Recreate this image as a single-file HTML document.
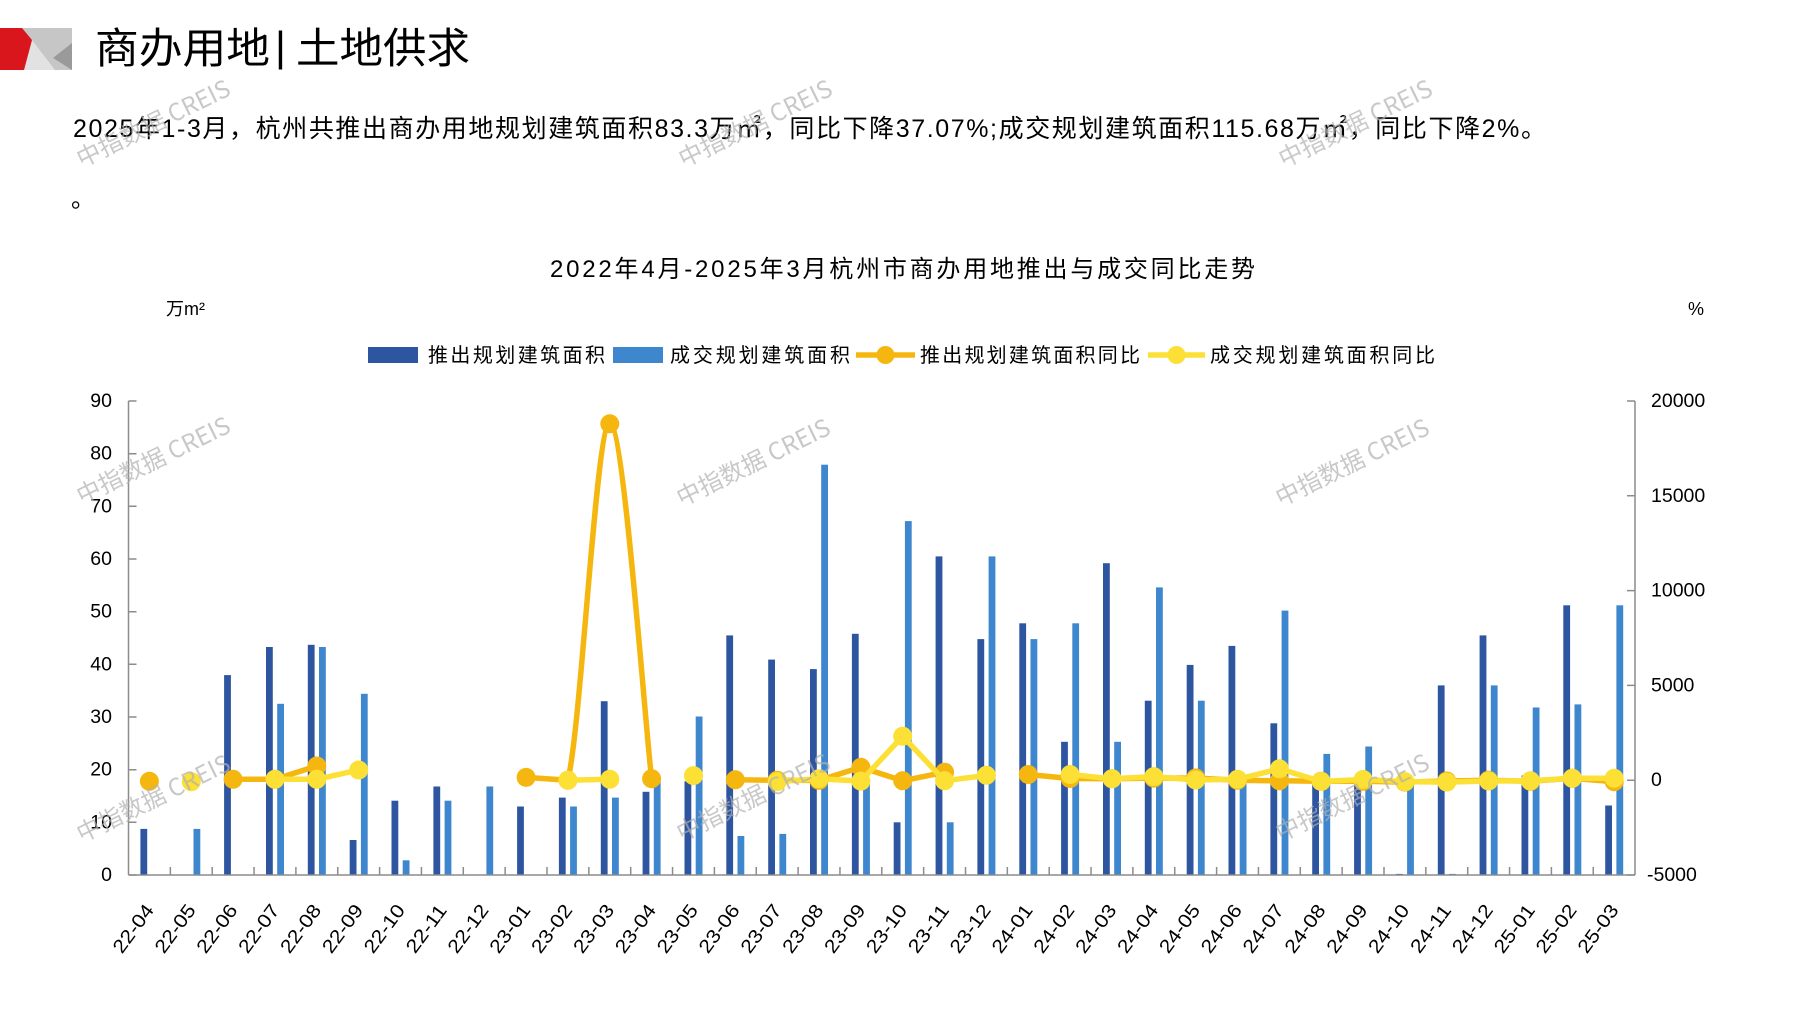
<!DOCTYPE html>
<html><head><meta charset="utf-8"><style>
html,body{margin:0;padding:0;background:#fff;overflow:hidden}
svg{display:block}
.t{font-family:"Liberation Sans","Noto Sans CJK SC",sans-serif;fill:#000}
.n{font-family:"Liberation Sans",sans-serif;fill:#000;font-size:19.5px}
.wm{font-family:"Noto Sans CJK SC","Liberation Sans",sans-serif;font-size:24px;fill:#b0b0b0;opacity:.7}
</style></head><body>
<svg width="1797" height="1010" viewBox="0 0 1797 1010" xmlns="http://www.w3.org/2000/svg">
<rect width="1797" height="1010" fill="#fff"/>
<!-- header logo -->
<rect x="0" y="28" width="72" height="42" fill="#c6c6c6"/>
<polygon points="32,40 55,70 24,70" fill="#e2e2e2"/>
<polygon points="72,43 53,58 72,70" fill="#9a9a9a"/>
<polygon points="0,28 22,28 32,40 24,70 0,70" fill="#d9161c"/>
<text class="t" x="95" y="63" font-size="42" textLength="175" lengthAdjust="spacingAndGlyphs">商办用地</text>
<text x="275" y="61" font-size="42" font-family="Liberation Sans,sans-serif" fill="#000">|</text>
<text class="t" x="296" y="63" font-size="42" textLength="174" lengthAdjust="spacingAndGlyphs">土地供求</text>
<!-- paragraph -->
<text class="t" x="73" y="137" font-size="25" textLength="1473" lengthAdjust="spacing">2025年1-3月，杭州共推出商办用地规划建筑面积83.3万㎡，同比下降37.07%;成交规划建筑面积115.68万㎡，同比下降2%。</text>
<text class="t" x="71" y="207" font-size="24">。</text>
<!-- chart title -->
<text class="t" x="550" y="277" font-size="24" textLength="705" lengthAdjust="spacing">2022年4月-2025年3月杭州市商办用地推出与成交同比走势</text>
<text class="t" x="166" y="315" font-size="18">万m²</text>
<text class="t" x="1688" y="315" font-size="18">%</text>
<!-- legend -->
<rect x="368" y="347" width="50" height="16" fill="#2e55a0"/>
<text class="t" x="428" y="362" font-size="20" textLength="177" lengthAdjust="spacing">推出规划建筑面积</text>
<rect x="613" y="347" width="50" height="16" fill="#3e86ce"/>
<text class="t" x="670" y="362" font-size="20" textLength="180" lengthAdjust="spacing">成交规划建筑面积</text>
<line x1="856" y1="355" x2="915" y2="355" stroke="#f5b70f" stroke-width="5.5"/>
<circle cx="885.5" cy="355" r="9" fill="#f5b70f"/>
<text class="t" x="920" y="362" font-size="20" textLength="220" lengthAdjust="spacing">推出规划建筑面积同比</text>
<line x1="1148" y1="355" x2="1205" y2="355" stroke="#fce035" stroke-width="5.5"/>
<circle cx="1176.5" cy="355" r="9" fill="#fce035"/>
<text class="t" x="1210" y="362" font-size="20" textLength="225" lengthAdjust="spacing">成交规划建筑面积同比</text>

<!-- bars dark -->
<g fill="#2e55a0">
<rect x="140.4" y="828.9" width="6.8" height="46.1"/>
<rect x="224.1" y="675.1" width="6.8" height="199.9"/>
<rect x="266.0" y="647.0" width="6.8" height="228.0"/>
<rect x="307.8" y="644.8" width="6.8" height="230.2"/>
<rect x="349.7" y="840.0" width="6.8" height="35.0"/>
<rect x="391.5" y="800.7" width="6.8" height="74.3"/>
<rect x="433.4" y="786.5" width="6.8" height="88.5"/>
<rect x="517.1" y="806.5" width="6.8" height="68.5"/>
<rect x="558.9" y="797.6" width="6.8" height="77.4"/>
<rect x="600.8" y="701.2" width="6.8" height="173.8"/>
<rect x="642.6" y="791.8" width="6.8" height="83.2"/>
<rect x="684.5" y="781.3" width="6.8" height="93.7"/>
<rect x="726.3" y="635.4" width="6.8" height="239.6"/>
<rect x="768.2" y="659.6" width="6.8" height="215.4"/>
<rect x="810.0" y="669.1" width="6.8" height="205.9"/>
<rect x="851.9" y="633.8" width="6.8" height="241.2"/>
<rect x="893.7" y="822.3" width="6.8" height="52.7"/>
<rect x="935.6" y="556.4" width="6.8" height="318.6"/>
<rect x="977.4" y="639.1" width="6.8" height="235.9"/>
<rect x="1019.3" y="623.3" width="6.8" height="251.7"/>
<rect x="1061.1" y="741.8" width="6.8" height="133.2"/>
<rect x="1103.0" y="563.2" width="6.8" height="311.8"/>
<rect x="1144.8" y="700.7" width="6.8" height="174.3"/>
<rect x="1186.7" y="664.9" width="6.8" height="210.1"/>
<rect x="1228.5" y="645.9" width="6.8" height="229.1"/>
<rect x="1270.4" y="723.3" width="6.8" height="151.7"/>
<rect x="1312.2" y="780.2" width="6.8" height="94.8"/>
<rect x="1354.1" y="780.2" width="6.8" height="94.8"/>
<rect x="1395.9" y="873.9" width="6.8" height="1.1"/>
<rect x="1437.8" y="685.4" width="6.8" height="189.6"/>
<rect x="1479.6" y="635.4" width="6.8" height="239.6"/>
<rect x="1521.5" y="775.5" width="6.8" height="99.5"/>
<rect x="1563.3" y="605.3" width="6.8" height="269.7"/>
<rect x="1605.2" y="805.5" width="6.8" height="69.5"/>
</g>
<!-- bars light -->
<g fill="#3e86ce">
<rect x="193.5" y="828.9" width="6.8" height="46.1"/>
<rect x="277.2" y="703.8" width="6.8" height="171.2"/>
<rect x="319.0" y="647.0" width="6.8" height="228.0"/>
<rect x="360.9" y="693.8" width="6.8" height="181.2"/>
<rect x="402.7" y="860.3" width="6.8" height="14.7"/>
<rect x="444.6" y="800.7" width="6.8" height="74.3"/>
<rect x="486.4" y="786.5" width="6.8" height="88.5"/>
<rect x="570.1" y="806.5" width="6.8" height="68.5"/>
<rect x="612.0" y="797.6" width="6.8" height="77.4"/>
<rect x="653.8" y="778.6" width="6.8" height="96.4"/>
<rect x="695.7" y="716.5" width="6.8" height="158.5"/>
<rect x="737.5" y="836.0" width="6.8" height="39.0"/>
<rect x="779.4" y="833.9" width="6.8" height="41.1"/>
<rect x="821.2" y="464.7" width="6.8" height="410.3"/>
<rect x="863.1" y="780.2" width="6.8" height="94.8"/>
<rect x="904.9" y="521.1" width="6.8" height="353.9"/>
<rect x="946.8" y="822.3" width="6.8" height="52.7"/>
<rect x="988.6" y="556.4" width="6.8" height="318.6"/>
<rect x="1030.5" y="639.1" width="6.8" height="235.9"/>
<rect x="1072.3" y="623.3" width="6.8" height="251.7"/>
<rect x="1114.2" y="741.8" width="6.8" height="133.2"/>
<rect x="1156.0" y="587.4" width="6.8" height="287.6"/>
<rect x="1197.9" y="700.7" width="6.8" height="174.3"/>
<rect x="1239.7" y="780.2" width="6.8" height="94.8"/>
<rect x="1281.6" y="610.6" width="6.8" height="264.4"/>
<rect x="1323.4" y="753.9" width="6.8" height="121.1"/>
<rect x="1365.3" y="746.5" width="6.8" height="128.5"/>
<rect x="1407.1" y="782.8" width="6.8" height="92.2"/>
<rect x="1449.0" y="873.9" width="6.8" height="1.1"/>
<rect x="1490.8" y="685.4" width="6.8" height="189.6"/>
<rect x="1532.7" y="707.5" width="6.8" height="167.5"/>
<rect x="1574.5" y="704.4" width="6.8" height="170.6"/>
<rect x="1616.4" y="605.3" width="6.8" height="269.7"/>
</g>

<!-- axes -->
<g stroke="#8c8c8c" stroke-width="1.5" fill="none">
<line x1="128.5" y1="401" x2="128.5" y2="875"/>
<line x1="1635" y1="401" x2="1635" y2="875"/>
<line x1="128.5" y1="875" x2="1635" y2="875"/>
<path d="M128.5 875H136.5M128.5 822.3H136.5M128.5 769.7H136.5M128.5 717H136.5M128.5 664.3H136.5M128.5 611.7H136.5M128.5 559H136.5M128.5 506.3H136.5M128.5 453.7H136.5M128.5 401H136.5"/>
<path d="M1627 875H1635M1627 780.2H1635M1627 685.4H1635M1627 590.6H1635M1627 495.8H1635M1627 401H1635"/>
<path d="M170.35 875V867M212.2 875V867M254.05 875V867M295.9 875V867M337.75 875V867M379.6 875V867M421.45 875V867M463.3 875V867M505.15 875V867M547 875V867M588.85 875V867M630.7 875V867M672.55 875V867M714.4 875V867M756.25 875V867M798.1 875V867M839.95 875V867M881.8 875V867M923.65 875V867M965.5 875V867M1007.35 875V867M1049.2 875V867M1091.05 875V867M1132.9 875V867M1174.75 875V867M1216.6 875V867M1258.45 875V867M1300.3 875V867M1342.15 875V867M1384 875V867M1425.85 875V867M1467.7 875V867M1509.55 875V867M1551.4 875V867M1593.25 875V867"/>
</g>
<!-- left labels -->
<g class="n" text-anchor="end">
<text x="112" y="407">90</text>
<text x="112" y="459.7">80</text>
<text x="112" y="512.3">70</text>
<text x="112" y="565">60</text>
<text x="112" y="617.7">50</text>
<text x="112" y="670.3">40</text>
<text x="112" y="723">30</text>
<text x="112" y="775.7">20</text>
<text x="112" y="828.3">10</text>
<text x="112" y="881">0</text>
</g>
<!-- right labels -->
<g class="n">
<text x="1651" y="407">20000</text>
<text x="1651" y="501.8">15000</text>
<text x="1651" y="596.6">10000</text>
<text x="1651" y="691.4">5000</text>
<text x="1651" y="786.2">0</text>
<text x="1647" y="881">-5000</text>
</g>
<!-- x labels -->
<g class="n" text-anchor="end" style="font-size:19px">
<text transform="translate(154.7,910.3) rotate(-53.6)" textLength="55" lengthAdjust="spacingAndGlyphs">22-04</text>
<text transform="translate(196.6,910.3) rotate(-53.6)" textLength="55" lengthAdjust="spacingAndGlyphs">22-05</text>
<text transform="translate(238.4,910.3) rotate(-53.6)" textLength="55" lengthAdjust="spacingAndGlyphs">22-06</text>
<text transform="translate(280.3,910.3) rotate(-53.6)" textLength="55" lengthAdjust="spacingAndGlyphs">22-07</text>
<text transform="translate(322.1,910.3) rotate(-53.6)" textLength="55" lengthAdjust="spacingAndGlyphs">22-08</text>
<text transform="translate(364.0,910.3) rotate(-53.6)" textLength="55" lengthAdjust="spacingAndGlyphs">22-09</text>
<text transform="translate(405.8,910.3) rotate(-53.6)" textLength="55" lengthAdjust="spacingAndGlyphs">22-10</text>
<text transform="translate(447.7,910.3) rotate(-53.6)" textLength="55" lengthAdjust="spacingAndGlyphs">22-11</text>
<text transform="translate(489.5,910.3) rotate(-53.6)" textLength="55" lengthAdjust="spacingAndGlyphs">22-12</text>
<text transform="translate(531.4,910.3) rotate(-53.6)" textLength="55" lengthAdjust="spacingAndGlyphs">23-01</text>
<text transform="translate(573.2,910.3) rotate(-53.6)" textLength="55" lengthAdjust="spacingAndGlyphs">23-02</text>
<text transform="translate(615.1,910.3) rotate(-53.6)" textLength="55" lengthAdjust="spacingAndGlyphs">23-03</text>
<text transform="translate(656.9,910.3) rotate(-53.6)" textLength="55" lengthAdjust="spacingAndGlyphs">23-04</text>
<text transform="translate(698.8,910.3) rotate(-53.6)" textLength="55" lengthAdjust="spacingAndGlyphs">23-05</text>
<text transform="translate(740.6,910.3) rotate(-53.6)" textLength="55" lengthAdjust="spacingAndGlyphs">23-06</text>
<text transform="translate(782.5,910.3) rotate(-53.6)" textLength="55" lengthAdjust="spacingAndGlyphs">23-07</text>
<text transform="translate(824.3,910.3) rotate(-53.6)" textLength="55" lengthAdjust="spacingAndGlyphs">23-08</text>
<text transform="translate(866.2,910.3) rotate(-53.6)" textLength="55" lengthAdjust="spacingAndGlyphs">23-09</text>
<text transform="translate(908.0,910.3) rotate(-53.6)" textLength="55" lengthAdjust="spacingAndGlyphs">23-10</text>
<text transform="translate(949.9,910.3) rotate(-53.6)" textLength="55" lengthAdjust="spacingAndGlyphs">23-11</text>
<text transform="translate(991.7,910.3) rotate(-53.6)" textLength="55" lengthAdjust="spacingAndGlyphs">23-12</text>
<text transform="translate(1033.6,910.3) rotate(-53.6)" textLength="55" lengthAdjust="spacingAndGlyphs">24-01</text>
<text transform="translate(1075.4,910.3) rotate(-53.6)" textLength="55" lengthAdjust="spacingAndGlyphs">24-02</text>
<text transform="translate(1117.3,910.3) rotate(-53.6)" textLength="55" lengthAdjust="spacingAndGlyphs">24-03</text>
<text transform="translate(1159.1,910.3) rotate(-53.6)" textLength="55" lengthAdjust="spacingAndGlyphs">24-04</text>
<text transform="translate(1201.0,910.3) rotate(-53.6)" textLength="55" lengthAdjust="spacingAndGlyphs">24-05</text>
<text transform="translate(1242.8,910.3) rotate(-53.6)" textLength="55" lengthAdjust="spacingAndGlyphs">24-06</text>
<text transform="translate(1284.7,910.3) rotate(-53.6)" textLength="55" lengthAdjust="spacingAndGlyphs">24-07</text>
<text transform="translate(1326.5,910.3) rotate(-53.6)" textLength="55" lengthAdjust="spacingAndGlyphs">24-08</text>
<text transform="translate(1368.4,910.3) rotate(-53.6)" textLength="55" lengthAdjust="spacingAndGlyphs">24-09</text>
<text transform="translate(1410.2,910.3) rotate(-53.6)" textLength="55" lengthAdjust="spacingAndGlyphs">24-10</text>
<text transform="translate(1452.1,910.3) rotate(-53.6)" textLength="55" lengthAdjust="spacingAndGlyphs">24-11</text>
<text transform="translate(1493.9,910.3) rotate(-53.6)" textLength="55" lengthAdjust="spacingAndGlyphs">24-12</text>
<text transform="translate(1535.8,910.3) rotate(-53.6)" textLength="55" lengthAdjust="spacingAndGlyphs">25-01</text>
<text transform="translate(1577.6,910.3) rotate(-53.6)" textLength="55" lengthAdjust="spacingAndGlyphs">25-02</text>
<text transform="translate(1619.5,910.3) rotate(-53.6)" textLength="55" lengthAdjust="spacingAndGlyphs">25-03</text>
</g>

<!-- orange line (推出同比) -->
<g stroke="#f5b70f" stroke-width="5.5" fill="none" stroke-linejoin="round" stroke-linecap="round">
<polyline points="233.1,779.3 275.0,779.3 316.8,766.0"/>
<path d="M526.1 777.4 L567.9 780.2 C581.85 721.3 595.85 424.05 609.8 423.8 C623.75 423.55 644.6 719.5 651.6 778.7"/>
<polyline points="735.3,779.8 777.2,780.3 819.0,780.4 860.9,767.3 902.7,780.8 944.6,772.2"/>
<polyline points="1028.3,774.5 1070.1,778.5 1112.0,778.7 1153.8,778.1 1195.7,778.0 1237.5,780.3 1279.4,780.8 1321.2,781.2 1363.1,781.3 1404.9,782.1 1446.8,781.0 1488.6,780.2 1530.5,781.3 1572.3,778.3 1614.2,781.7"/>
</g>
<g fill="#f5b70f">
<circle cx="149.4" cy="781.3" r="9.5"/>
<circle cx="233.1" cy="779.3" r="9.5"/><circle cx="275.0" cy="779.3" r="9.5"/><circle cx="316.8" cy="766.0" r="9.5"/>
<circle cx="526.1" cy="777.4" r="9.5"/><circle cx="567.9" cy="780.2" r="9.5"/><circle cx="609.8" cy="423.8" r="9.5"/><circle cx="651.6" cy="778.7" r="9.5"/>
<circle cx="735.3" cy="779.8" r="9.5"/><circle cx="777.2" cy="780.3" r="9.5"/><circle cx="819.0" cy="780.4" r="9.5"/><circle cx="860.9" cy="767.3" r="9.5"/><circle cx="902.7" cy="780.8" r="9.5"/><circle cx="944.6" cy="772.2" r="9.5"/>
<circle cx="1028.3" cy="774.5" r="9.5"/><circle cx="1070.1" cy="778.5" r="9.5"/><circle cx="1112.0" cy="778.7" r="9.5"/><circle cx="1153.8" cy="778.1" r="9.5"/><circle cx="1195.7" cy="778.0" r="9.5"/><circle cx="1237.5" cy="780.3" r="9.5"/><circle cx="1279.4" cy="780.8" r="9.5"/><circle cx="1321.2" cy="781.2" r="9.5"/><circle cx="1363.1" cy="781.3" r="9.5"/><circle cx="1404.9" cy="782.1" r="9.5"/><circle cx="1446.8" cy="781.0" r="9.5"/><circle cx="1488.6" cy="780.2" r="9.5"/><circle cx="1530.5" cy="781.3" r="9.5"/><circle cx="1572.3" cy="778.3" r="9.5"/><circle cx="1614.2" cy="781.7" r="9.5"/>
</g>
<!-- yellow line (成交同比) -->
<g stroke="#fce035" stroke-width="5.5" fill="none" stroke-linejoin="round" stroke-linecap="round">
<polyline points="275.0,779.3 316.8,779.3 358.7,770.0"/>
<polyline points="567.9,780.2 609.8,779.3"/>
<polyline points="777.2,781.6 819.0,778.7 860.9,781.1 902.7,736.2 944.6,780.8 986.4,775.3"/>
<polyline points="1070.1,774.5 1112.0,778.8 1153.8,776.6 1195.7,780.0 1237.5,779.3 1279.4,768.8 1321.2,781.5 1363.1,779.5 1404.9,781.6 1446.8,782.1 1488.6,781.0 1530.5,780.8 1572.3,778.3 1614.2,778.3"/>
</g>
<g fill="#fce035">
<circle cx="191.3" cy="781.7" r="9.5"/>
<circle cx="275.0" cy="779.3" r="9.5"/><circle cx="316.8" cy="779.3" r="9.5"/><circle cx="358.7" cy="770.0" r="9.5"/>
<circle cx="567.9" cy="780.2" r="9.5"/><circle cx="609.8" cy="779.3" r="9.5"/>
<circle cx="693.5" cy="775.6" r="9.5"/>
<circle cx="777.2" cy="781.6" r="9.5"/><circle cx="819.0" cy="778.7" r="9.5"/><circle cx="860.9" cy="781.1" r="9.5"/><circle cx="902.7" cy="736.2" r="9.5"/><circle cx="944.6" cy="780.8" r="9.5"/><circle cx="986.4" cy="775.3" r="9.5"/>
<circle cx="1070.1" cy="774.5" r="9.5"/><circle cx="1112.0" cy="778.8" r="9.5"/><circle cx="1153.8" cy="776.6" r="9.5"/><circle cx="1195.7" cy="780.0" r="9.5"/><circle cx="1237.5" cy="779.3" r="9.5"/><circle cx="1279.4" cy="768.8" r="9.5"/><circle cx="1321.2" cy="781.5" r="9.5"/><circle cx="1363.1" cy="779.5" r="9.5"/><circle cx="1404.9" cy="781.6" r="9.5"/><circle cx="1446.8" cy="782.1" r="9.5"/><circle cx="1488.6" cy="781.0" r="9.5"/><circle cx="1530.5" cy="780.8" r="9.5"/><circle cx="1572.3" cy="778.3" r="9.5"/><circle cx="1614.2" cy="778.3" r="9.5"/>
</g>

<!-- watermarks -->
<g class="wm" text-anchor="middle">
<text transform="translate(157,131) rotate(-26)">中指数据 CREIS</text>
<text transform="translate(759,131) rotate(-26)">中指数据 CREIS</text>
<text transform="translate(1359,131) rotate(-26)">中指数据 CREIS</text>
<text transform="translate(157,468) rotate(-26)">中指数据 CREIS</text>
<text transform="translate(757,470) rotate(-26)">中指数据 CREIS</text>
<text transform="translate(1356,470) rotate(-26)">中指数据 CREIS</text>
<text transform="translate(157,806) rotate(-26)">中指数据 CREIS</text>
<text transform="translate(757,805) rotate(-26)">中指数据 CREIS</text>
<text transform="translate(1356,805) rotate(-26)">中指数据 CREIS</text>
</g>
</svg>
</body></html>
